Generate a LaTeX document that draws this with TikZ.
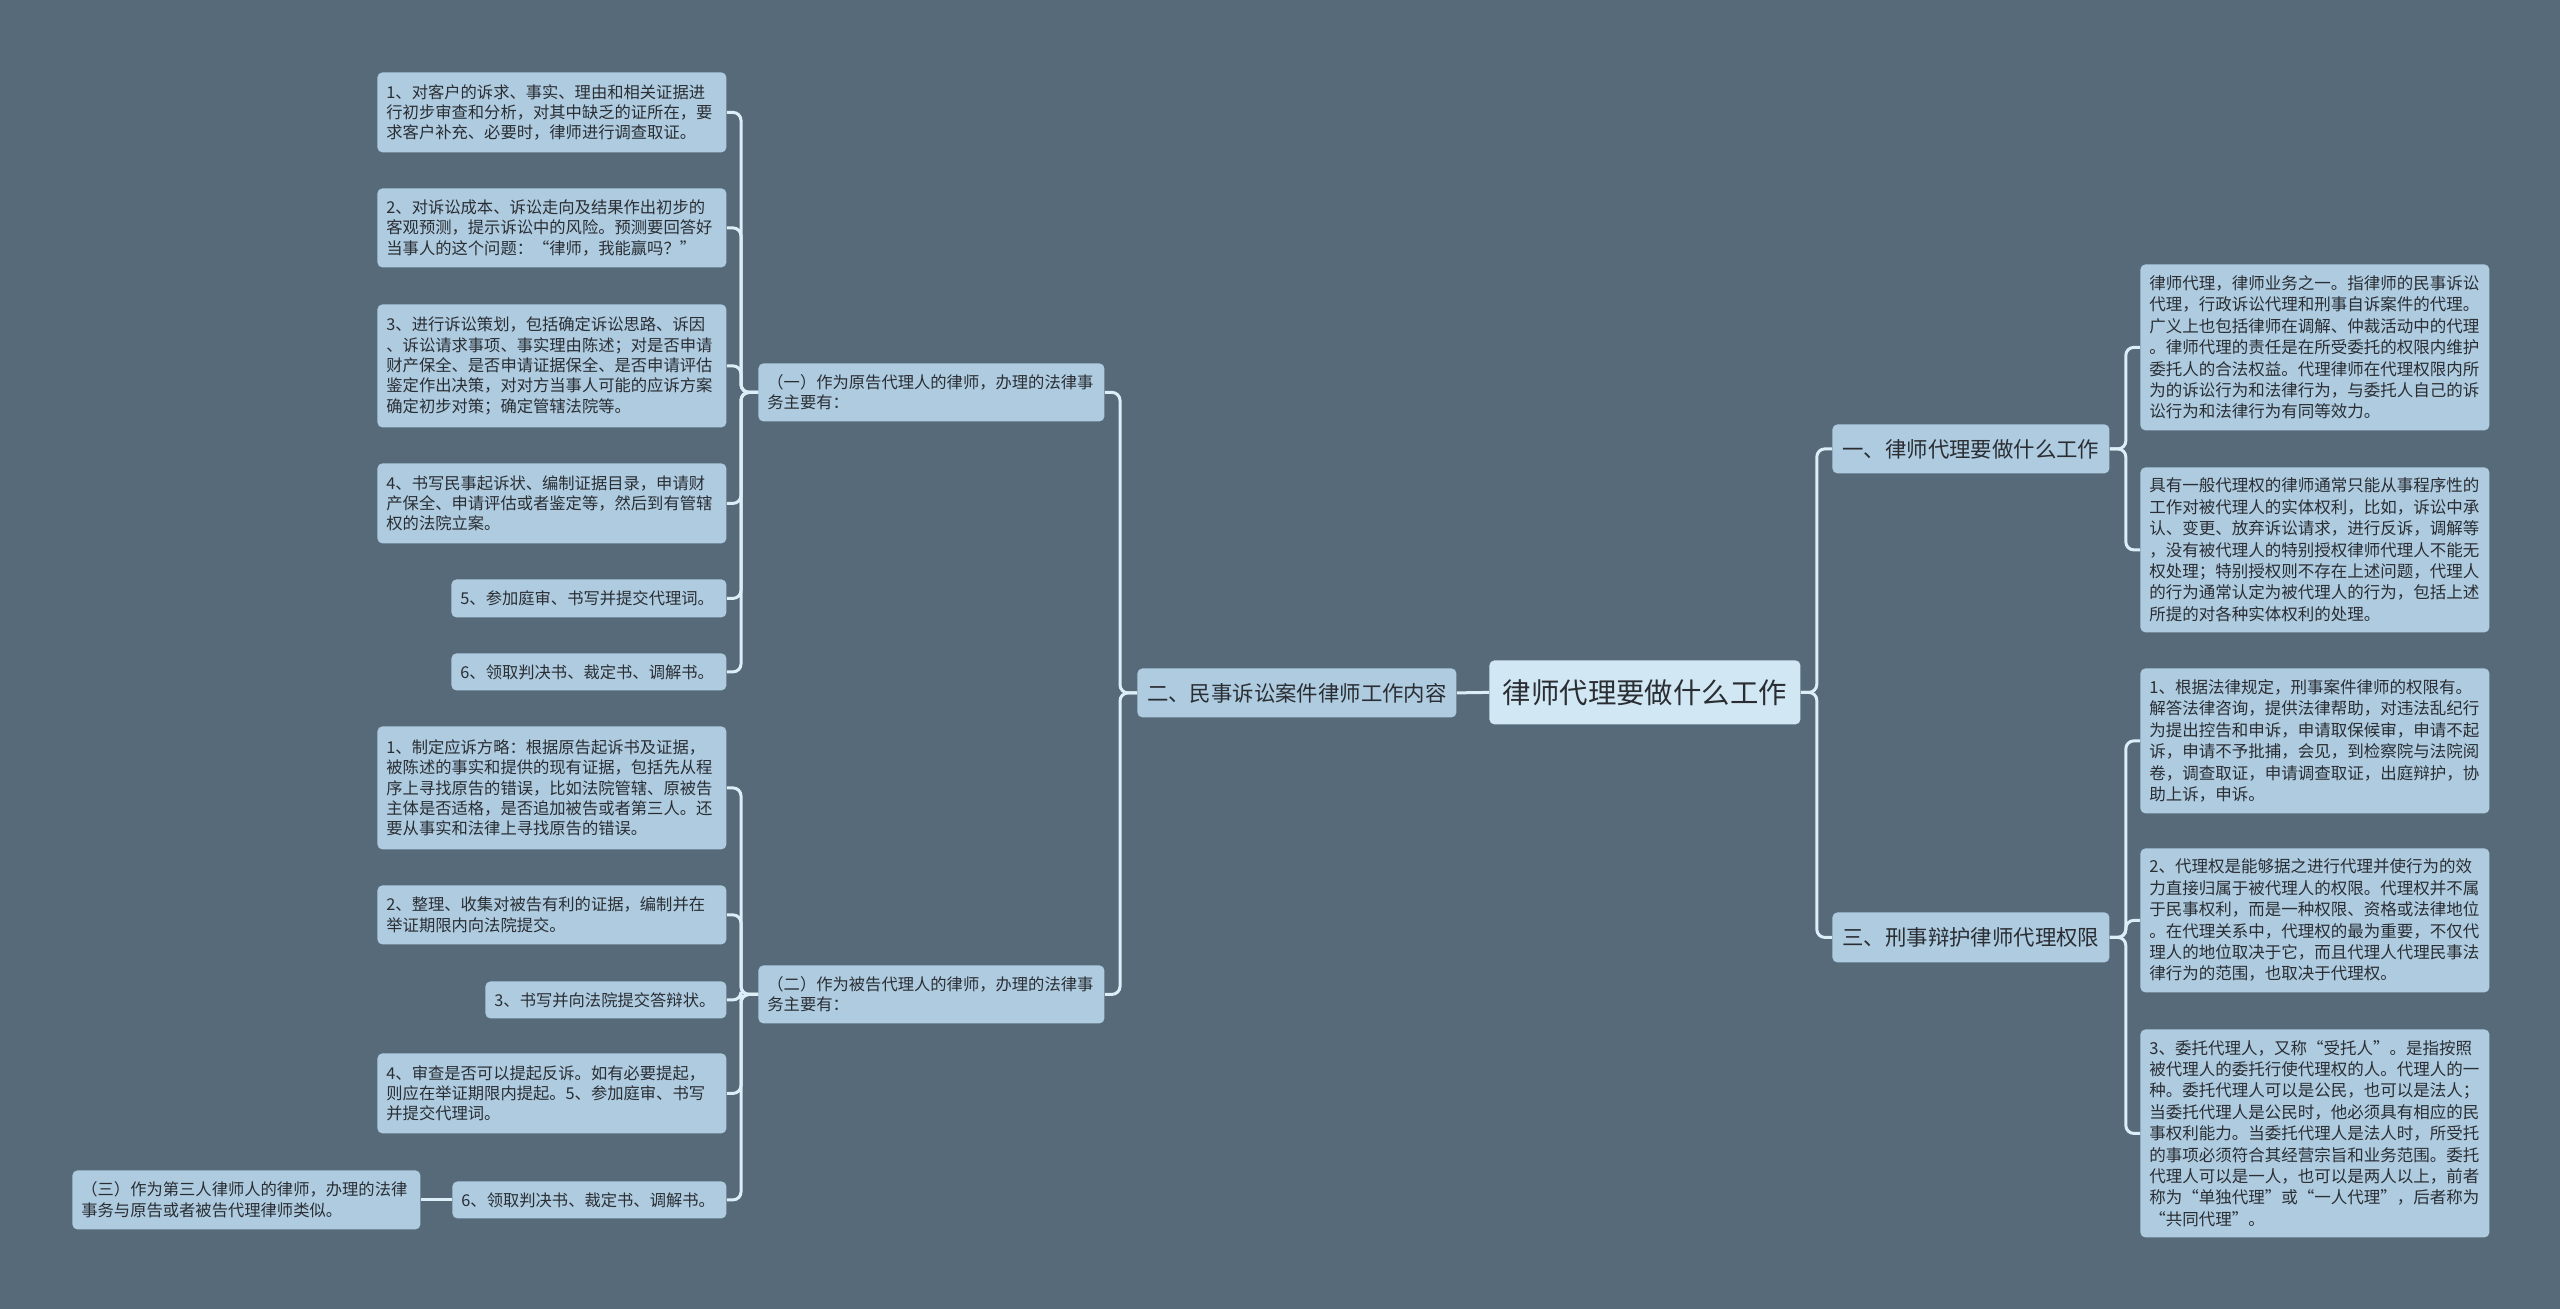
\documentclass[tikz,border=0pt]{standalone}
\usepackage{fontspec}
\setmainfont{Noto Sans CJK SC}
\definecolor{bg}{HTML}{566A79}
\definecolor{boxfill}{HTML}{AECBE0}
\definecolor{cfill}{HTML}{D2E7F4}
\definecolor{conncol}{HTML}{DCEEF7}
\definecolor{txt}{HTML}{2A2E33}
\newcommand\fL{\fontsize{8.15pt}{10.2pt}\selectfont}
\newcommand\fR{\fontsize{8.25pt}{10.7pt}\selectfont}
\newcommand\fM{\fontsize{10.7pt}{13pt}\selectfont}
\newcommand\fC{\fontsize{14.2pt}{17pt}\selectfont}
\newcommand\mybox[7]{%
  \pgfmathsetmacro\bw{(#4-#2)*0.5}%
  \pgfmathsetmacro\bh{(#5-#3)*0.5}%
  \pgfmathsetmacro\tw{(#4-#2)*0.5-9}%
  \node[#6, anchor=north west, minimum width=\bw pt, minimum height=\bh pt, text width=\tw pt] (#1) at (#2,#3) {#7};%
}
\tikzset{
  basebox/.style={fill=boxfill, draw=none, rounded corners=2.5pt, inner xsep=4.5pt, inner ysep=0pt, text=txt},
  lbox/.style={basebox, align=left, font=\fL},
  rbox/.style={basebox, align=left, font=\fR},
  mbox/.style={basebox, align=center, font=\fM},
  cbox/.style={basebox, fill=cfill, align=center, font=\fC},
  conn/.style={draw=conncol, line width=1.5pt, rounded corners=4pt}
}
\begin{document}
\begin{tikzpicture}[x=0.5pt,y=-0.5pt]
\useasboundingbox (0,0) rectangle (2560,1309);
\fill[bg] (0,0) rectangle (2560,1309);

% center and level 1
\mybox{c0}{1489}{660}{1800}{724}{cbox}{律师代理要做什么工作}
\mybox{n2}{1137}{668}{1456}{717}{mbox}{二、民事诉讼案件律师工作内容}
\mybox{n1}{1832}{424}{2109}{473}{mbox}{一、律师代理要做什么工作}
\mybox{n3}{1832}{912}{2109}{962}{mbox}{三、刑事辩护律师代理权限}

% level 2 left
\mybox{p1}{758}{363}{1104}{421}{lbox}{（一）作为原告代理人的律师，办理的法律事\\务主要有：}
\mybox{p2}{758}{965}{1104}{1023}{lbox}{（二）作为被告代理人的律师，办理的法律事\\务主要有：}
\mybox{p3}{72}{1170}{420}{1229}{lbox}{（三）作为第三人律师人的律师，办理的法律\\事务与原告或者被告代理律师类似。}

% children of p1
\mybox{a1}{377}{72}{726}{152}{lbox}{1、对客户的诉求、事实、理由和相关证据进\\行初步审查和分析，对其中缺乏的证所在，要\\求客户补充、必要时，律师进行调查取证。}
\mybox{a2}{377}{188}{726}{267}{lbox}{2、对诉讼成本、诉讼走向及结果作出初步的\\客观预测，提示诉讼中的风险。预测要回答好\\当事人的这个问题：“律师，我能赢吗？”}
\mybox{a3}{377}{304}{726}{427}{lbox}{3、进行诉讼策划，包括确定诉讼思路、诉因\\、诉讼请求事项、事实理由陈述；对是否申请\\财产保全、是否申请证据保全、是否申请评估\\鉴定作出决策，对对方当事人可能的应诉方案\\确定初步对策；确定管辖法院等。}
\mybox{a4}{377}{463}{726}{543}{lbox}{4、书写民事起诉状、编制证据目录，申请财\\产保全、申请评估或者鉴定等，然后到有管辖\\权的法院立案。}
\mybox{a5}{451}{579}{726}{617}{lbox}{5、参加庭审、书写并提交代理词。}
\mybox{a6}{451}{653}{726}{690}{lbox}{6、领取判决书、裁定书、调解书。}

% children of p2
\mybox{b1}{377}{726}{726}{849}{lbox}{1、制定应诉方略：根据原告起诉书及证据，\\被陈述的事实和提供的现有证据，包括先从程\\序上寻找原告的错误，比如法院管辖、原被告\\主体是否适格，是否追加被告或者第三人。还\\要从事实和法律上寻找原告的错误。}
\mybox{b2}{377}{885}{726}{944}{lbox}{2、整理、收集对被告有利的证据，编制并在\\举证期限内向法院提交。}
\mybox{b3}{485}{981}{726}{1018}{lbox}{3、书写并向法院提交答辩状。}
\mybox{b4}{377}{1053}{726}{1133}{lbox}{4、审查是否可以提起反诉。如有必要提起，\\则应在举证期限内提起。5、参加庭审、书写\\并提交代理词。}
\mybox{b6}{452}{1181}{726}{1218}{lbox}{6、领取判决书、裁定书、调解书。}

% right children
\mybox{r1}{2140}{264}{2489}{430}{rbox}{律师代理，律师业务之一。指律师的民事诉讼\\代理，行政诉讼代理和刑事自诉案件的代理。\\广义上也包括律师在调解、仲裁活动中的代理\\。律师代理的责任是在所受委托的权限内维护\\委托人的合法权益。代理律师在代理权限内所\\为的诉讼行为和法律行为，与委托人自己的诉\\讼行为和法律行为有同等效力。}
\mybox{r2}{2140}{467}{2489}{632}{rbox}{具有一般代理权的律师通常只能从事程序性的\\工作对被代理人的实体权利，比如，诉讼中承\\认、变更、放弃诉讼请求，进行反诉，调解等\\，没有被代理人的特别授权律师代理人不能无\\权处理；特别授权则不存在上述问题，代理人\\的行为通常认定为被代理人的行为，包括上述\\所提的对各种实体权利的处理。}
\mybox{r3}{2140}{668}{2489}{813}{rbox}{1、根据法律规定，刑事案件律师的权限有。\\解答法律咨询，提供法律帮助，对违法乱纪行\\为提出控告和申诉，申请取保候审，申请不起\\诉，申请不予批捕，会见，到检察院与法院阅\\卷，调查取证，申请调查取证，出庭辩护，协\\助上诉，申诉。}
\mybox{r4}{2140}{848}{2489}{992}{rbox}{2、代理权是能够据之进行代理并使行为的效\\力直接归属于被代理人的权限。代理权并不属\\于民事权利，而是一种权限、资格或法律地位\\。在代理关系中，代理权的最为重要，不仅代\\理人的地位取决于它，而且代理人代理民事法\\律行为的范围，也取决于代理权。}
\mybox{r5}{2140}{1029}{2489}{1237}{rbox}{3、委托代理人，又称“受托人”。是指按照\\被代理人的委托行使代理权的人。代理人的一\\种。委托代理人可以是公民，也可以是法人；\\当委托代理人是公民时，他必须具有相应的民\\事权利能力。当委托代理人是法人时，所受托\\的事项必须符合其经营宗旨和业务范围。委托\\代理人可以是一人，也可以是两人以上，前者\\称为“单独代理”或“一人代理”，后者称为\\“共同代理”。}

% connectors
\draw[conn] (c0.west) -- (n2.east);
\foreach \t in {n1,n3} \draw[conn] (c0.east) -- ++(16,0) |- (\t.west);
\foreach \t in {r1,r2} \draw[conn] (n1.east) -- ++(16,0) |- (\t.west);
\foreach \t in {r3,r4,r5} \draw[conn] (n3.east) -- ++(16,0) |- (\t.west);
\foreach \t in {p1,p2} \draw[conn] (n2.west) -- ++(-17,0) |- (\t.east);
\foreach \t in {a1,a2,a3,a4,a5,a6} \draw[conn] (p1.west) -- ++(-17,0) |- (\t.east);
\foreach \t in {b1,b2,b3,b4,b6} \draw[conn] (p2.west) -- ++(-17,0) |- (\t.east);
\draw[conn] (b6.west) -- (p3.east);
\end{tikzpicture}
\end{document}
